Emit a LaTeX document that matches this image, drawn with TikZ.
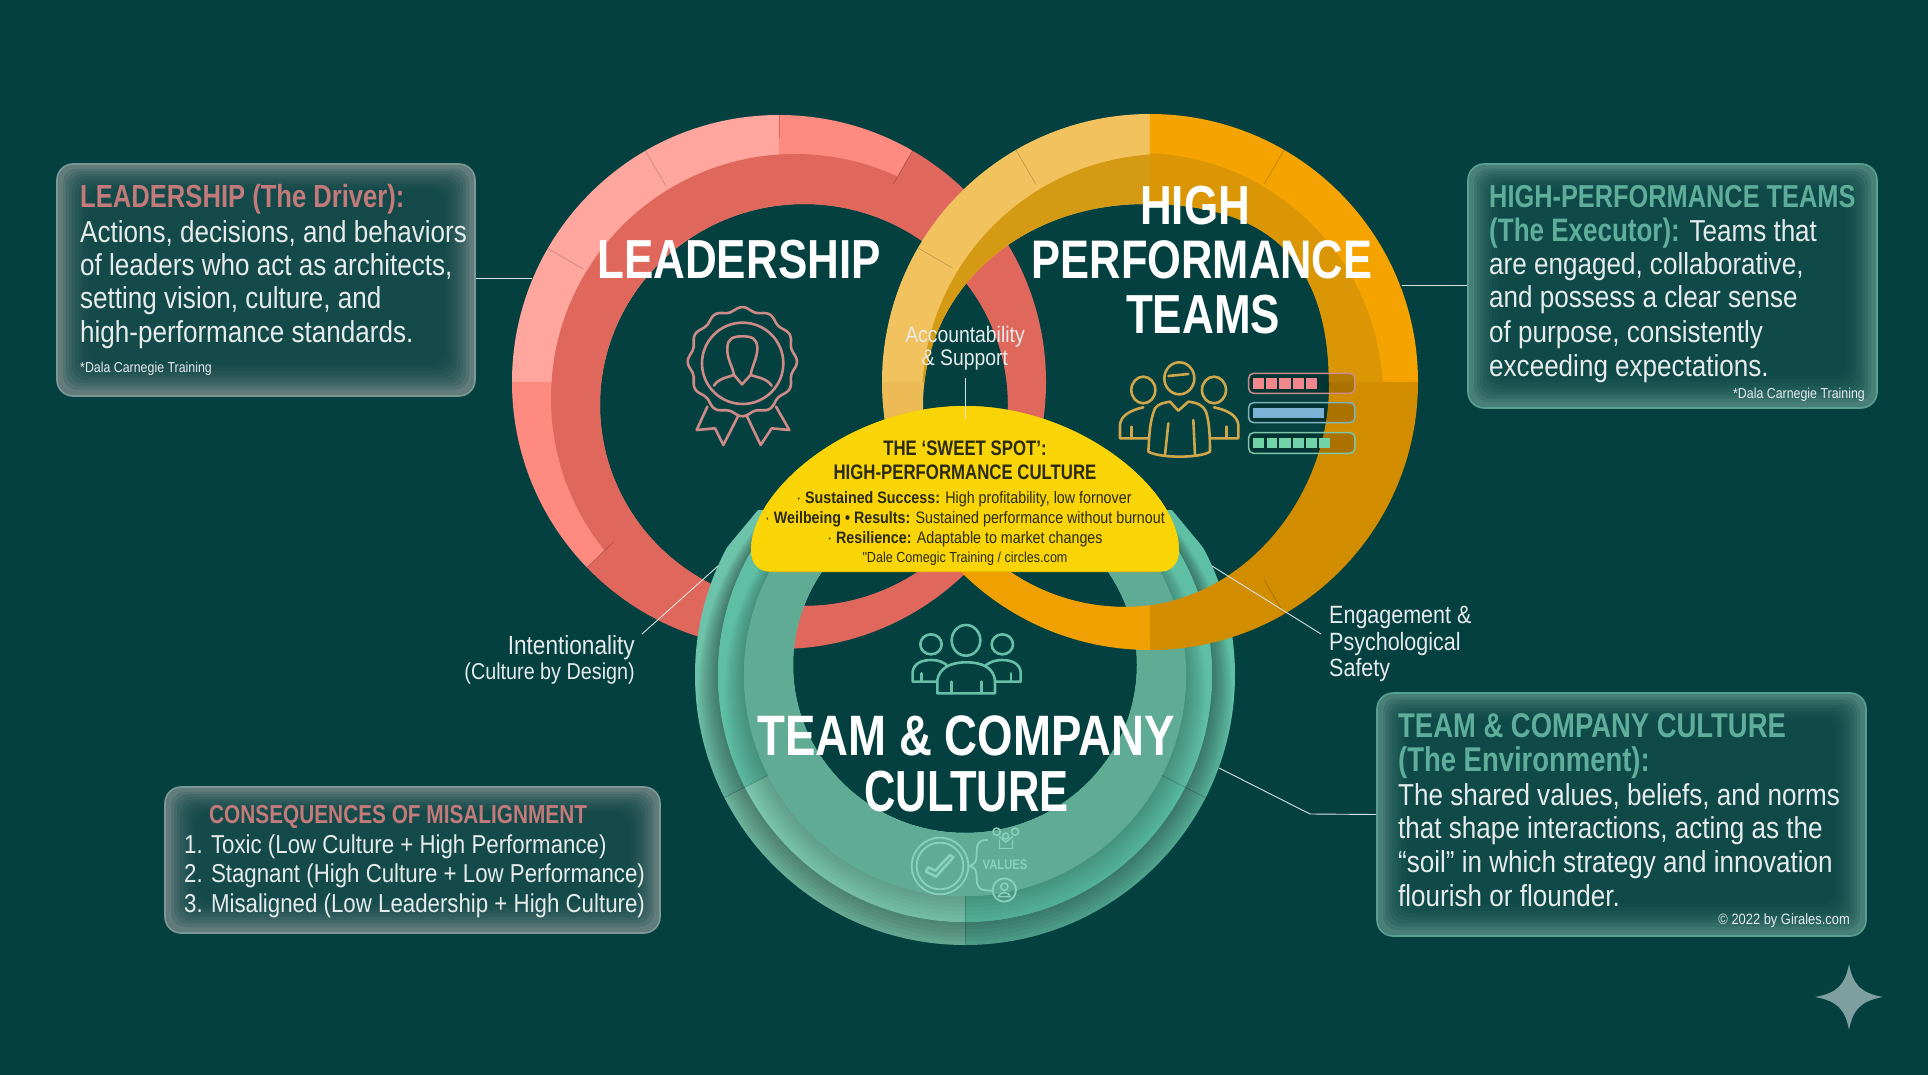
\documentclass[tikz,border=0pt]{standalone}
\usepackage{fontspec}
\setmainfont{Liberation Sans}
\newfontfamily\nar[FakeStretch=0.8]{Liberation Sans}
\newfontfamily\bod[FakeStretch=0.86]{Liberation Sans}
\newfontfamily\narc[FakeStretch=0.75]{Liberation Sans}
\definecolor{bgc}{HTML}{044040}
\definecolor{headred}{HTML}{C27A7A}
\definecolor{headteal}{HTML}{5FAE9C}
\definecolor{bodyc}{HTML}{E6ECEC}
\definecolor{darktxt}{HTML}{2B2A12}
\definecolor{ribbonc}{HTML}{CE8A86}
\definecolor{goldc}{HTML}{CFA64A}
\definecolor{teali}{HTML}{68BFA8}
\definecolor{valc}{HTML}{8AD0BC}
\newcommand{\fs}[1]{\fontsize{#1}{#1}\selectfont}
\tikzset{
  x=1pt,y=-1pt,
  txt/.style={inner sep=0,font=\bod,text=bodyc},
  title/.style={inner sep=0,font=\nar\bfseries,text=white},
  leader/.style={draw=white!85!bgc,line width=0.9pt},
  glass/.style={rectangle,rounded corners=16pt,inner sep=0,line width=1.6pt},
  icon/.style={line width=2.6pt,line join=round,line cap=round,fill=none},
}
% sector of a ring: colour, cx, cy, a1, a2, path
\newcommand{\sect}[6]{\begin{scope}
  \clip (#2,#3) -- ({#2+1000*cos(#4)},{#3-1000*sin(#4)}) -- ({#2+1000*cos((#4+#5)/2)},{#3-1000*sin((#4+#5)/2)}) -- ({#2+1000*cos(#5)},{#3-1000*sin(#5)}) -- cycle;
  \fill[#1,even odd rule] #6;
\end{scope}}
\newcommand{\seam}[5]{\draw[black,opacity=.2,line width=.7pt] ({#1+#3*cos(#5)},{#2-#3*sin(#5)}) -- ({#1+#4*cos(#5)},{#2-#4*sin(#5)});}
\newcommand{\softshadow}[4]{% cx cy R opacity
  \foreach \k in {2,4,...,20}{\fill[black,opacity=#4,even odd rule] (#1,{#2+\k*.9}) circle [radius={#3+\k}] (#1,#2) circle [radius=#3];}}
% glass box insets
\newcommand{\glassin}[4]{\foreach \i in {1,...,9}{\fill[bgc,opacity=.16,rounded corners=14pt] ({#1+3+\i*3},{#2+2+\i*2.6}) rectangle ({#3-3-\i*3},{#4-3-\i*3.2});}}
\newcommand{\tl}[6]{\node[#5,anchor=#2] (#1) at (#3,#4) {#6};}
\begin{document}
\begin{tikzpicture}
\useasboundingbox (0,0) rectangle (1928,1075);
\fill[bgc] (0,0) rectangle (1928,1075);

% ---- LEADERSHIP ring
\def\redO{(779,382) circle [radius=267] (804,405) circle [x radius=204,y radius=201]}
\def\redD{(795,398) circle [radius=244] (804,405) circle [x radius=204,y radius=201]}
\definecolor{r1}{HTML}{FFA79E}\definecolor{r2}{HTML}{FF8A7F}\definecolor{r3}{HTML}{DF675B}
\sect{r1}{779}{382}{90}{180}{\redO}
\sect{r2}{779}{382}{60}{90.01}{\redO}
\sect{r3}{779}{382}{-136}{60.01}{\redO}
\sect{r2}{779}{382}{180}{224}{\redO}
\fill[r3,even odd rule] \redD;
\seam{779}{382}{244}{267}{90}
\seam{779}{382}{226}{267}{120}
\seam{779}{382}{226}{267}{150}
\seam{779}{382}{228}{267}{60}
\seam{779}{382}{230}{267}{224}

% ---- CULTURE ring (its top is hidden behind the sweet spot)
\def\tealO{(965,675) circle [radius=270] (965,665) circle [x radius=172,y radius=168]}
\def\tealM{(965,675) circle [radius=247] (965,665) circle [x radius=172,y radius=168]}
\def\tealI{(965,675) circle [radius=221] (965,665) circle [x radius=172,y radius=168]}
\definecolor{t1}{HTML}{6DC2AA}\definecolor{t2}{HTML}{7BCBB0}\definecolor{t3}{HTML}{5FBFA5}
\definecolor{t4}{HTML}{80D0B6}\definecolor{t5}{HTML}{5CC2A6}\definecolor{t6}{HTML}{5FAB93}
\begin{scope}
\clip (690,592) -- (758,510) -- (1172,510) -- (1240,592) -- (1300,1000) -- (630,1000) -- cycle;
\sect{t1}{965}{675}{90}{207}{\tealO}
\sect{t2}{965}{675}{207}{270.01}{\tealO}
\sect{t3}{965}{675}{270}{333.01}{\tealO}
\sect{t3}{965}{675}{-27}{90.01}{\tealO}
\begin{scope}
\clip (965,675) circle [radius=270];
\softshadow{965}{675}{247}{.04}
\end{scope}
\sect{t3}{965}{675}{90}{207}{\tealM}
\sect{t4}{965}{675}{207}{270.01}{\tealM}
\sect{t5}{965}{675}{270}{333.01}{\tealM}
\sect{t3}{965}{675}{-27}{90.01}{\tealM}
\begin{scope}
\clip (965,675) circle [radius=247];
\softshadow{965}{675}{221}{.025}
\end{scope}
\fill[t6,even odd rule] \tealI;
\end{scope}
\seam{965}{675}{221}{270}{270}
\seam{965}{675}{221}{270}{207}
\seam{965}{675}{221}{270}{333}

% ---- HIGH PERFORMANCE ring
\def\orgH{(1329,385) .. controls (1329,262) and (1270,204) .. (1145,204) .. controls (1020,204) and (923,290) .. (923,406) .. controls (923,520) and (1015,607) .. (1125,607) .. controls (1240,607) and (1329,500) .. (1329,385) -- cycle}
\def\orgO{(1150,382) circle [radius=268] \orgH}
\def\orgD{(1166,398) circle [radius=244] \orgH}
\def\orgE{(1140,396) circle [radius=243] \orgH}
\definecolor{o1}{HTML}{F2C25E}\definecolor{o2}{HTML}{F5A300}\definecolor{o3}{HTML}{D18C00}
\definecolor{o4}{HTML}{F0A000}\definecolor{o5}{HTML}{EDBB55}\definecolor{o6}{HTML}{D49A14}\definecolor{o7}{HTML}{DB9606}
\sect{o1}{1150}{382}{90}{180.01}{\orgO}
\sect{o2}{1150}{382}{0}{90.01}{\orgO}
\sect{o3}{1150}{382}{-90}{0.01}{\orgO}
\sect{o5}{1150}{382}{180}{205.01}{\orgO}
\sect{o4}{1150}{382}{205}{270.01}{\orgO}
\sect{o6}{1150}{382}{90}{180.01}{\orgD}
\sect{o7}{1150}{382}{0}{90.01}{\orgE}
\sect{o4}{1150}{382}{205}{270.01}{\orgD}
\seam{1150}{382}{228}{268}{60}
\seam{1150}{382}{228}{268}{120}
\seam{1150}{382}{228}{268}{150}
\seam{1150}{382}{228}{268}{300}

% ---- sweet spot
\definecolor{spot}{HTML}{F9D508}\definecolor{spotd}{HTML}{E6BE00}
\def\spotpath{(751,550) .. controls (751,490) and (850,406) .. (965,406) .. controls (1080,406) and (1179,490) .. (1179,550) .. controls (1179,565) and (1170,572) .. (1158,572) -- (772,572) .. controls (760,572) and (751,565) .. (751,550) -- cycle}
\fill[spotd] \spotpath;
\begin{scope}
\clip (700,400) rectangle (1230,570.5);
\fill[spot] \spotpath;
\end{scope}

% ---- icons
% rosette
\begin{scope}[xshift=670pt,yshift=-295pt,x=.3333pt,y=-.3333pt,ribbonc]
\draw[icon] plot[smooth cycle,samples=73,domain=0:355] ({217+(158+6*cos(12*\x))*cos(\x)},{200+(158+6*cos(12*\x))*sin(\x)});
\draw[icon] (218,205) circle [radius=122];
\draw[icon] (192,240) .. controls (188,215) and (170,190) .. (172,160) .. controls (172,130) and (190,124) .. (217,124) .. controls (245,124) and (262,130) .. (262,160) .. controls (262,190) and (245,215) .. (242,240);
\draw[icon] (132,272) .. controls (145,250) and (170,248) .. (192,240) -- (216,268) -- (242,240) .. controls (265,248) and (290,250) .. (305,272);
\draw[icon] (112,335) -- (80,405) -- (135,400) -- (160,450) -- (205,362);
\draw[icon] (230,362) -- (272,450) -- (305,400) -- (358,405) -- (318,335);
\end{scope}
% performers
\begin{scope}[xshift=1110pt,yshift=-350pt,x=.3333pt,y=-.3333pt,goldc]
\draw[icon] (208,85) circle [x radius=45,y radius=48];
\draw[icon] (175,78) -- (235,72);
\draw[icon] (100,120) circle [x radius=36,y radius=40];
\draw[icon] (312,120) circle [x radius=36,y radius=40];
\draw[icon] (115,305) .. controls (118,260) and (118,215) .. (135,175) .. controls (145,160) and (165,158) .. (180,155) -- (205,182) -- (235,155) .. controls (260,158) and (280,165) .. (288,185) .. controls (298,215) and (300,260) .. (300,305) .. controls (270,325) and (150,325) .. (115,305) -- cycle;
\draw[icon] (175,220) -- (165,315);
\draw[icon] (250,210) -- (255,315);
\draw[icon] (115,265) -- (30,265) -- (30,225) .. controls (32,195) and (65,180) .. (100,172);
\draw[icon] (300,265) -- (385,265) -- (385,225) .. controls (382,195) and (350,180) .. (312,172);
\draw[icon] (65,230) -- (65,265);
\draw[icon] (350,230) -- (350,265);
\end{scope}
% bars
\begin{scope}[xshift=1110pt,yshift=-350pt,x=.3333pt,y=-.3333pt]
\fill[black,opacity=.18,rounded corners=5pt] (416,70) rectangle (735,130);
\fill[black,opacity=.18,rounded corners=5pt] (416,158) rectangle (735,218);
\fill[black,opacity=.18,rounded corners=5pt] (416,248) rectangle (735,310);
\draw[color={rgb,255:red,205;green,140;blue,140},line width=1.5pt,rounded corners=5pt] (416,70) rectangle (735,130);
\draw[color={rgb,255:red,125;green,180;blue,190},line width=1.5pt,rounded corners=5pt] (416,158) rectangle (735,218);
\draw[color={rgb,255:red,125;green,200;blue,170},line width=1.5pt,rounded corners=5pt] (416,248) rectangle (735,310);
\foreach \a/\b in {430/462,468/502,508/542,548/582,588/622}{\fill[color={rgb,255:red,240;green,135;blue,140}] (\a,85) rectangle (\b,118);}
\fill[color={rgb,255:red,125;green,178;blue,215}] (430,173) rectangle (642,205);
\foreach \a/\b in {430/462,470/502,508/542,548/582,588/622,628/660}{\fill[color={rgb,255:red,112;green,212;blue,168}] (\a,265) rectangle (\b,295);}
\end{scope}
% culture people
\begin{scope}[xshift=900pt,yshift=-615pt,x=.3333pt,y=-.3333pt,teali]
\draw[icon] (198,76) circle [x radius=43,y radius=46];
\draw[icon] (93,88) circle [x radius=32,y radius=30];
\draw[icon] (307,88) circle [x radius=32,y radius=30];
\draw[icon] (112,235) -- (112,195) .. controls (118,160) and (150,142) .. (198,142) .. controls (250,142) and (280,160) .. (285,195) -- (285,235) -- cycle;
\draw[icon] (155,200) -- (155,235);
\draw[icon] (245,200) -- (245,235);
\draw[icon] (112,200) -- (38,200) -- (38,170) .. controls (42,145) and (65,135) .. (95,135) .. controls (115,135) and (130,142) .. (140,150);
\draw[icon] (285,200) -- (362,200) -- (362,170) .. controls (358,145) and (335,135) .. (305,135) .. controls (285,135) and (270,142) .. (258,150);
\draw[icon] (65,175) -- (65,200);
\draw[icon] (333,175) -- (333,200);
\end{scope}
% values
\begin{scope}[xshift=900pt,yshift=-820pt,x=.3333pt,y=-.3333pt,valc]
\draw[icon,line width=1.8pt] (120,138) circle [radius=85];
\draw[icon,line width=1.8pt] (120,138) circle [radius=70];
\draw[icon] (78,155) -- (108,170) -- (160,112) -- (150,105) -- (106,152) -- (84,142) -- cycle;
\draw[icon,line width=1.8pt] (262,60) .. controls (235,60) and (230,70) .. (230,100) .. controls (230,125) and (225,135) .. (205,138) .. controls (225,140) and (230,150) .. (230,175) .. controls (230,205) and (240,212) .. (275,212);
\draw[icon,line width=1.8pt] (313,210) circle [radius=35];
\draw[icon,line width=1.5pt] (313,200) circle [radius=11];
\draw[icon,line width=1.5pt] (295,230) .. controls (297,214) and (329,214) .. (331,230) -- cycle;
\draw[icon,line width=1.5pt] (290,35) circle [radius=11];
\draw[icon,line width=1.5pt] (345,35) circle [radius=11];
\draw[icon,line width=1.5pt] (317,48) circle [radius=9];
\draw[icon,line width=1.5pt] (298,60) -- (298,85) -- (338,85) -- (338,60);
\draw[icon,line width=1.5pt] (298,50) -- (317,66) -- (338,50);
\end{scope}
\tl{values}{center}{1005}{865}{txt,text=valc,font=\nar\bfseries\fs{14}}{VALUES}

% ---- star
\fill[color={rgb,255:red,127;green,158;blue,160}] (1849,964) .. controls (1853,985) and (1861,993) .. (1883,997) .. controls (1861,1001) and (1853,1009) .. (1849,1030) .. controls (1845,1009) and (1837,1001) .. (1815,997) .. controls (1837,993) and (1845,985) .. (1849,964) -- cycle;

% ---- glass boxes
\node[glass,fill={rgb,255:red,98;green,124;blue,124},draw={rgb,255:red,125;green,150;blue,150},minimum width=418pt,minimum height=232pt] (leadbox) at (266,280) {};
\glassin{57}{164}{475}{396}
\node[glass,fill={rgb,255:red,72;green,128;blue,120},draw={rgb,255:red,88;green,160;blue,145},minimum width=409pt,minimum height=244pt] (perfbox) at (1672.5,286) {};
\glassin{1468}{164}{1877}{408}
\node[glass,fill={rgb,255:red,72;green,128;blue,120},draw={rgb,255:red,88;green,160;blue,145},minimum width=489pt,minimum height=243pt] (cultbox) at (1621.5,814.5) {};
\glassin{1377}{693}{1866}{936}
\node[glass,fill={rgb,255:red,98;green,124;blue,124},draw={rgb,255:red,125;green,150;blue,150},minimum width=495pt,minimum height=146pt] (misbox) at (412.5,860) {};
\glassin{165}{787}{660}{933}

% ---- connectors
\coordinate (leadend) at (532,278);
\draw[leader] (leadbox.east |- leadend) -- (leadend);
\coordinate (perfend) at (1402,285);
\draw[leader] (perfbox.west |- perfend) -- (perfend);
\coordinate (cultelbow) at (1310,814);
\coordinate (cultend) at (1219,768);
\draw[leader] (cultbox.west) -- (cultelbow) -- (cultend);
\coordinate (acctop) at (965,378);
\coordinate (accend) at (965,419);
\draw[leader] (acctop) -- (accend);
\coordinate (intfrom) at (642,634);
\coordinate (intto) at (718,566);
\draw[leader] (intfrom) -- (intto);
\coordinate (engfrom) at (1212,566);
\coordinate (engto) at (1321,634);
\draw[leader] (engfrom) -- (engto);

% ---- titles
\tl{tlead}{base}{739}{279}{title,font=\nar\bfseries\fs{55}}{LEADERSHIP}
\tl{thigh}{base}{1195}{225}{title,font=\nar\bfseries\fs{55}}{HIGH}
\tl{tperf}{base}{1202}{279}{title,font=\nar\bfseries\fs{54.3}}{PERFORMANCE}
\tl{tteam}{base}{1203}{334}{title,font=\nar\bfseries\fs{55}}{TEAMS}
\tl{tcomp}{base}{966}{755}{title,font=\nar\bfseries\fs{57}}{TEAM \& COMPANY}
\tl{tcult}{base}{966.5}{811}{title,font=\narc\bfseries\fs{58}}{CULTURE}

% ---- labels
\tl{acc1}{base}{965}{342}{txt,font=\bod\fs{22.5}}{Accountability}
\tl{acc2}{base}{965}{366}{txt,font=\bod\fs{22.5}}{\& Support}
\tl{int1}{base east}{635}{654}{txt,font=\bod\fs{26.3}}{Intentionality}
\tl{int2}{base east}{635}{679}{txt,font=\bod\fs{23}}{(Culture by Design)}
\tl{eng1}{base west}{1329}{623}{txt,font=\bod\fs{25}}{Engagement \&}
\tl{eng2}{base west}{1329}{650}{txt,font=\bod\fs{25}}{Psychological}
\tl{eng3}{base west}{1329}{676}{txt,font=\bod\fs{25}}{Safety}

% ---- sweet spot text
\tl{sp1}{base}{965}{455}{txt,text=darktxt,font=\nar\bfseries\fs{21}}{THE ‘SWEET SPOT’:}
\tl{sp2}{base}{965}{479}{txt,text=darktxt,font=\nar\bfseries\fs{21}}{HIGH-PERFORMANCE CULTURE}
\tl{sp3}{base}{964}{503}{txt,text=darktxt,font=\bod\fs{16.6}}{· \textbf{Sustained Success:} High profitability, low fornover}
\tl{sp4}{base}{965}{523}{txt,text=darktxt,font=\bod\fs{16.6}}{· \textbf{Weilbeing • Results:} Sustained performance without burnout}
\tl{sp5}{base}{965}{543}{txt,text=darktxt,font=\bod\fs{16.6}}{· \textbf{Resilience:} Adaptable to market changes}
\tl{sp6}{base}{965}{562}{txt,text=darktxt,font=\bod\fs{14.6}}{"Dale Comegic Training / circles.com}

% ---- leadership text
\tl{l0}{base west}{80}{208}{txt,text=headred,font=\nar\bfseries\fs{32}}{LEADERSHIP (The Driver):}
\tl{l1}{base west}{80}{243}{txt,font=\bod\fs{30.3}}{Actions, decisions, and behaviors}
\tl{l2}{base west}{80}{276}{txt,font=\bod\fs{30.3}}{of leaders who act as architects,}
\tl{l3}{base west}{80}{309}{txt,font=\bod\fs{30.3}}{setting vision, culture, and}
\tl{l4}{base west}{80}{343}{txt,font=\bod\fs{30.3}}{high-performance standards.}
\tl{l5}{base west}{80}{372}{txt,font=\bod\fs{14.4}}{*Dala Carnegie Training}

% ---- performance text
\tl{p0}{base west}{1489}{208}{txt,text=headteal,font=\nar\bfseries\fs{31.7}}{HIGH-PERFORMANCE TEAMS}
\tl{p1}{base west}{1489}{242}{txt,font=\bod\fs{30.3}}{\textcolor{headteal}{\nar\bfseries\fontsize{32.5}{32.5}\selectfont (The Executor):} Teams that}
\tl{p2}{base west}{1489}{275}{txt,font=\bod\fs{30.3}}{are engaged, collaborative,}
\tl{p3}{base west}{1489}{308}{txt,font=\bod\fs{30.3}}{and possess a clear sense}
\tl{p4}{base west}{1489}{343}{txt,font=\bod\fs{30.3}}{of purpose, consistently}
\tl{p5}{base west}{1489}{377}{txt,font=\bod\fs{30.3}}{exceeding expectations.}
\tl{p6}{base east}{1865}{398}{txt,font=\bod\fs{14.4}}{*Dala Carnegie Training}

% ---- culture text
\tl{c0}{base west}{1398}{737}{txt,text=headteal,font=\nar\bfseries\fs{34.3}}{TEAM \& COMPANY CULTURE}
\tl{c1}{base west}{1398}{771}{txt,text=headteal,font=\nar\bfseries\fs{34.3}}{(The Environment):}
\tl{c2}{base west}{1398}{805}{txt,font=\bod\fs{30.3}}{The shared values, beliefs, and norms}
\tl{c3}{base west}{1398}{838}{txt,font=\bod\fs{30.3}}{that shape interactions, acting as the}
\tl{c4}{base west}{1398}{872}{txt,font=\bod\fs{30.3}}{“soil” in which strategy and innovation}
\tl{c5}{base west}{1398}{906}{txt,font=\bod\fs{30.3}}{flourish or flounder.}
\tl{c6}{base east}{1850}{924}{txt,font=\bod\fs{15}}{© 2022 by Girales.com}

% ---- misalignment text
\tl{m0}{base west}{209}{823}{txt,text=headred,font=\nar\bfseries\fs{26}}{CONSEQUENCES OF MISALIGNMENT}
\tl{m1}{base west}{184}{853}{txt,font=\bod\fs{25.9}}{1. Toxic (Low Culture + High Performance)}
\tl{m2}{base west}{184}{882}{txt,font=\bod\fs{25.9}}{2. Stagnant (High Culture + Low Performance)}
\tl{m3}{base west}{184}{912}{txt,font=\bod\fs{25.9}}{3. Misaligned (Low Leadership + High Culture)}
\end{tikzpicture}
\end{document}
